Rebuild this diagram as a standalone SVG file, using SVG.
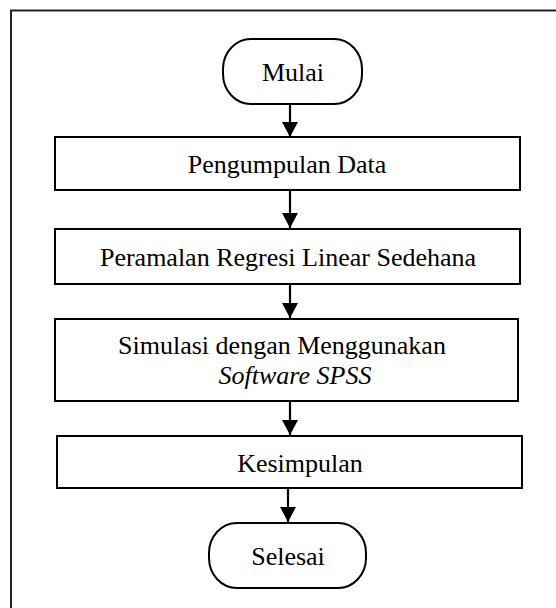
<svg xmlns="http://www.w3.org/2000/svg" width="556" height="608" viewBox="0 0 556 608">
  <defs>
    <marker id="head" markerWidth="15" markerHeight="16" refX="15" refY="8" orient="auto" markerUnits="userSpaceOnUse" viewBox="0 0 15 16">
      <path d="M0,0 L15,8 L0,16 Z" fill="#000"/>
    </marker>
  </defs>
  <style>
    .frame { fill: none; stroke: #222; stroke-width: 2; }
    .box { fill: #fff; stroke: #000; stroke-width: 2; }
    .term { fill: #fff; stroke: #000; stroke-width: 2; }
    .lbl { font-family: "Liberation Serif", "Times New Roman", serif; font-size: 26px; fill: #000; text-anchor: middle; }
    .it { font-style: italic; }
    .conn { stroke: #000; stroke-width: 2.2; fill: none; marker-end: url(#head); }
  </style>

  <rect width="556" height="608" fill="#fff"/>
  <!-- outer frame (open to the right and bottom) -->
  <rect class="frame" x="11" y="10.5" width="620" height="660"/>

  <g id="connectors">
    <line class="conn" x1="290" y1="104" x2="290" y2="137"/>
    <line class="conn" x1="290" y1="190" x2="290" y2="228"/>
    <line class="conn" x1="290" y1="284" x2="290" y2="318"/>
    <line class="conn" x1="290" y1="401" x2="290" y2="435"/>
    <line class="conn" x1="288" y1="488" x2="288" y2="522"/>
  </g>

  <g id="start">
    <rect class="term" x="223" y="39" width="139" height="65" rx="28" ry="30"/>
    <text class="lbl" x="293" y="81">Mulai</text>
  </g>

  <g id="collect">
    <rect class="box" x="55" y="137" width="465" height="53"/>
    <text class="lbl" x="287" y="172.5">Pengumpulan Data</text>
  </g>

  <g id="forecast">
    <rect class="box" x="55" y="229" width="465" height="55"/>
    <text class="lbl" x="288" y="266">Peramalan Regresi Linear Sedehana</text>
  </g>

  <g id="simulate">
    <rect class="box" x="55" y="319" width="463" height="82"/>
    <text class="lbl" x="282" y="354">Simulasi dengan Menggunakan</text>
    <text class="lbl it" x="295" y="384">Software SPSS</text>
  </g>

  <g id="conclude">
    <rect class="box" x="57" y="436" width="465" height="52"/>
    <text class="lbl" x="300" y="471.5">Kesimpulan</text>
  </g>

  <g id="end">
    <rect class="term" x="209" y="523" width="157" height="65" rx="28" ry="30"/>
    <text class="lbl" x="288" y="565">Selesai</text>
  </g>
</svg>
